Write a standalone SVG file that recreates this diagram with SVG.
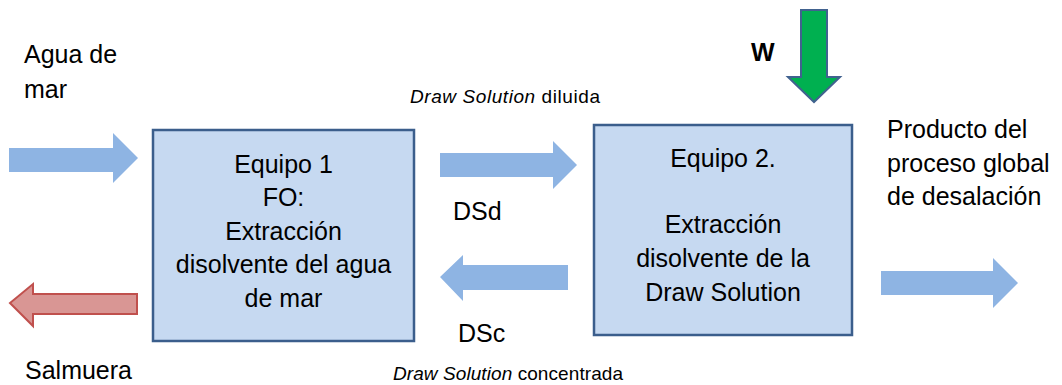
<svg xmlns="http://www.w3.org/2000/svg" width="1062" height="385" viewBox="0 0 1062 385">
<style>
.t{font-family:"Liberation Sans",Arial,sans-serif;font-size:25px;fill:#000}
.c{text-anchor:middle}
.s{font-family:"Liberation Sans",Arial,sans-serif;font-size:19px;fill:#000}
.box{fill:#c6d9f1;stroke:#3b5e8c;stroke-width:2.5}
.blue{fill:#8eb4e3}
</style>
<rect width="1062" height="385" fill="#fff"/>
<g id="connectors">
  <polygon class="blue" points="9,148 113,148 113,133 138,158 113,183 113,172 9,172"/>
  <polygon class="blue" points="440,153 553,153 553,141 577,165 553,189 553,177 440,177"/>
  <polygon class="blue" points="568,265 463,265 463,255 440,277 463,301 463,290 568,290"/>
  <polygon class="blue" points="881,271 993,271 993,258 1018,283 993,308 993,295 881,295"/>
  <polygon points="137,294 33,294 33,284 10,303 33,326 33,314 137,314" fill="#d99694" stroke="#c0504d" stroke-width="2"/>
  <polygon points="801,10 827,10 827,77 840,77 814,102 788,77 801,77" fill="#00b050" stroke="#41628f" stroke-width="2"/>
</g>
<g id="equipo1">
  <rect class="box" x="153" y="130" width="261" height="211"/>
  <text class="t c" x="283.5" y="173">Equipo 1</text>
  <text class="t c" x="283.5" y="206">FO:</text>
  <text class="t c" x="283.5" y="240">Extracción</text>
  <text class="t c" x="283.5" y="273">disolvente del agua</text>
  <text class="t c" x="283.5" y="307">de mar</text>
</g>
<g id="equipo2">
  <rect class="box" x="594" y="125" width="258" height="210"/>
  <text class="t c" x="723" y="167">Equipo 2.</text>
  <text class="t c" x="723" y="233">Extracción</text>
  <text class="t c" x="723" y="267">disolvente de la</text>
  <text class="t c" x="723" y="301">Draw Solution</text>
</g>
<g id="labels">
  <text class="t" x="24" y="63">Agua de</text>
  <text class="t" x="24" y="98">mar</text>
  <text class="t" x="25" y="379">Salmuera</text>
  <text class="s" x="410" y="103" textLength="190"><tspan font-style="italic">Draw Solution</tspan> diluida</text>
  <text class="t" x="453" y="220">DSd</text>
  <text class="t" x="458" y="342">DSc</text>
  <text class="s" x="393" y="380" textLength="230"><tspan font-style="italic">Draw Solution</tspan> concentrada</text>
  <text class="t" x="887" y="138">Producto del</text>
  <text class="t" x="887" y="172">proceso global</text>
  <text class="t" x="887" y="205">de desalación</text>
  <text x="751" y="61" font-family="Liberation Sans,Arial,sans-serif" font-size="25" font-weight="bold">W</text>
</g>
</svg>
